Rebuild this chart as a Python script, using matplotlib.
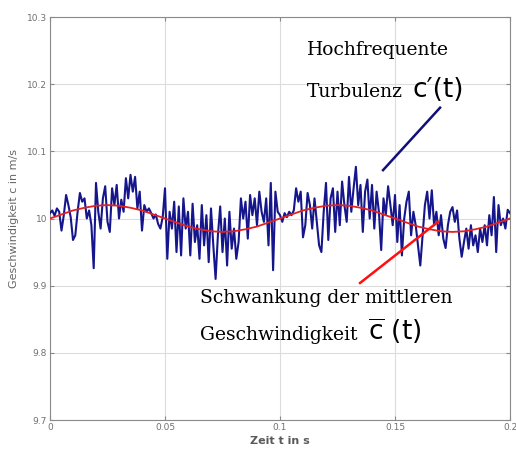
import matplotlib
matplotlib.use("Agg")
import numpy as np
from matplotlib import pyplot as plt

# time axis of the measured signal (1 ms sampling)
t_signal = np.arange(201) * 0.001

c_signal = [
    10.008, 10.012, 10.004, 10.015, 10.010, 9.982, 10.005, 10.035, 10.020, 10.002,
    9.968, 9.975, 10.010, 10.038, 10.025, 10.030, 10.000, 10.012, 9.990, 9.926,
    10.053, 10.010, 9.985, 10.030, 10.048, 9.995, 9.980, 10.045, 10.020, 10.050,
    10.000, 10.028, 10.010, 10.060, 10.030, 10.065, 10.040, 10.062, 10.015, 10.040,
    9.982, 10.020, 10.010, 10.015, 10.008, 10.000, 10.006, 9.992, 9.985, 10.002,
    10.045, 9.940, 10.010, 9.985, 10.025, 9.950, 10.018, 9.945, 10.030, 9.985,
    10.010, 9.945, 10.022, 9.965, 9.990, 9.940, 10.020, 9.960, 10.005, 9.935,
    10.015, 9.960, 9.910, 9.975, 10.018, 9.950, 10.000, 9.930, 10.010, 9.955,
    9.985, 9.940, 9.965, 10.030, 10.000, 10.025, 9.970, 10.035, 10.005, 10.030,
    9.990, 10.040, 10.010, 9.995, 10.030, 9.960, 10.053, 9.923, 10.040, 10.010,
    10.005, 9.995, 10.008, 10.002, 10.010, 10.005, 10.012, 10.045, 10.025, 10.040,
    9.972, 9.990, 10.038, 10.020, 9.985, 10.030, 9.995, 9.960, 9.950, 10.010,
    10.053, 9.968, 10.030, 10.045, 9.980, 10.040, 9.990, 10.055, 10.020, 9.995,
    10.062, 10.010, 10.045, 10.077, 10.020, 10.050, 9.980, 10.040, 10.058, 10.000,
    10.050, 9.985, 10.040, 10.010, 9.953, 10.030, 10.005, 10.048, 10.020, 9.990,
    10.035, 9.965, 10.020, 9.945, 10.000, 10.025, 10.040, 9.975, 10.010, 9.990,
    9.960, 9.930, 9.975, 10.020, 10.040, 10.000, 10.042, 9.990, 10.010, 9.975,
    10.005, 9.970, 9.956, 9.990, 10.010, 10.017, 9.995, 10.012, 9.970, 9.943,
    9.965, 9.985, 9.955, 9.990, 9.960, 9.975, 9.950, 9.985, 9.965, 9.990,
    9.960, 10.005, 9.975, 10.032, 9.950, 10.020, 9.990, 10.000, 9.985, 10.013,
    10.008,
]

# slowly varying mean velocity, sampled every 5 ms
t_mean = np.arange(41) * 0.005
c_mean = [
    10.000, 10.006, 10.012, 10.016, 10.019, 10.020, 10.019, 10.016, 10.012, 10.006,
    10.000, 9.994, 9.988, 9.984, 9.981, 9.980, 9.981, 9.984, 9.988, 9.994,
    10.000, 10.006, 10.012, 10.016, 10.019, 10.020, 10.019, 10.016, 10.012, 10.006,
    10.000, 9.994, 9.988, 9.984, 9.981, 9.980, 9.981, 9.984, 9.988, 9.994,
    10.000,
]

x_ticks = [0, 0.05, 0.1, 0.15, 0.2]
x_labels = ["0", "0.05", "0.1", "0.15", "0.2"]
y_ticks = [9.7, 9.8, 9.9, 10.0, 10.1, 10.2, 10.3]
y_labels = ["9.7", "9.8", "9.9", "10", "10.1", "10.2", "10.3"]

fig = plt.figure(figsize=(5.16, 4.57), dpi=100)
ax = fig.add_axes([50 / 516, 1 - 420 / 457, 460 / 516, 403 / 457])

ax.plot(t_signal, c_signal, color="#16168c", lw=1.5, zorder=3)
ax.plot(t_mean, c_mean, color="#e42020", lw=1.3, zorder=4)

ax.set_xlim(0, 0.2)
ax.set_ylim(9.7, 10.3)
ax.set_xticks(x_ticks)
ax.set_xticklabels(x_labels)
ax.set_yticks(y_ticks)
ax.set_yticklabels(y_labels)
ax.grid(True, color="#dcdcdc", lw=0.8)
ax.tick_params(direction="in", length=3, top=True, right=True,
               labelsize=6.5, labelcolor="#707070", color="#888888", pad=2)
for sp in ax.spines.values():
    sp.set_color("#8a8a8a")
    sp.set_linewidth(0.8)

ax.set_xlabel("Zeit t in s", fontsize=8, color="#5a5a5a", fontweight="bold", labelpad=3)
ax.set_ylabel("Geschwindigkeit c in m/s", fontsize=8, color="#666666", labelpad=6)

# annotations
serif = dict(family="DejaVu Serif", fontsize=13.5, color="black", va="baseline")
ax.text(0.1117, 10.244, "Hochfrequente", **serif)
ax.text(0.1117, 10.181, "Turbulenz", **serif)
ax.text(0.1574, 10.181, "c\u2032(t)", family="DejaVu Sans", fontsize=19, va="baseline")
ax.plot([0.1696, 0.1448], [10.165, 10.072], color="#10107a", lw=1.8, zorder=5)

ax.text(0.0652, 9.874, "Schwankung der mittleren", **serif)
ax.text(0.0652, 9.819, "Geschwindigkeit", **serif)
ax.text(0.1383, 9.819, r"$\overline{\mathrm{c}}$ (t)", family="DejaVu Sans",
        fontsize=19, va="baseline")
ax.plot([0.1687, 0.1348], [9.995, 9.904], color="#ff1010", lw=1.8, zorder=5)

fig.savefig("out.png", dpi=100)
